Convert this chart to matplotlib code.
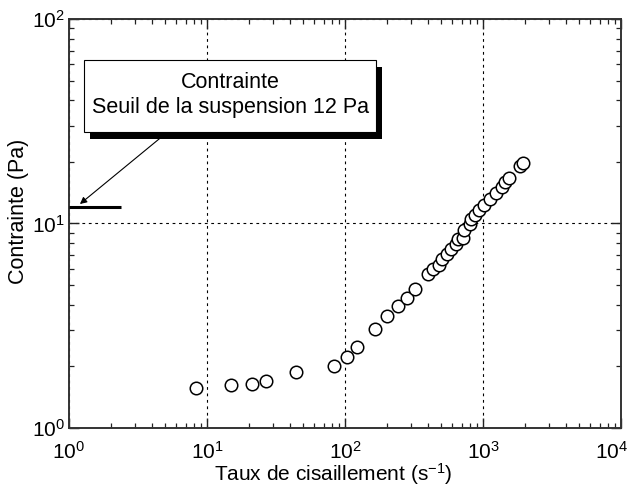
import matplotlib
matplotlib.use('Agg')
import matplotlib.pyplot as plt
import matplotlib.ticker as ticker
from matplotlib.patches import Rectangle

plt.rcParams['font.family'] = ['Liberation Sans', 'DejaVu Sans']
plt.rcParams['mathtext.fontset'] = 'custom'
plt.rcParams['mathtext.rm'] = 'Liberation Sans'
plt.rcParams['mathtext.it'] = 'Liberation Sans:italic'
plt.rcParams['mathtext.bf'] = 'Liberation Sans:bold'

# taux de cisaillement (s-1)
taux = [8.28, 14.9, 21.1, 26.9, 44.4, 82.8, 103, 123, 165, 203,
        243, 282, 319, 401, 435, 478, 503, 547, 589, 634,
        657, 716, 731, 805, 824, 879, 940, 1021, 1124, 1238,
        1366, 1439, 1543, 1854, 1960]
# contrainte (Pa)
contrainte = [1.57, 1.62, 1.65, 1.69, 1.87, 2.00, 2.22, 2.50, 3.04, 3.51,
              3.97, 4.30, 4.76, 5.63, 5.98, 6.25, 6.72, 7.07, 7.50, 7.97,
              8.38, 8.50, 9.29, 9.95, 10.5, 11.0, 11.6, 12.3, 13.1, 14.1,
              15.1, 15.9, 16.7, 19.0, 19.8]

# seuil de la suspension
seuil = 12
seuil_x = [1, 2.38]
fleche_debut = (4.56, 26.1)
fleche_fin = (1.20, 12.45)

fig = plt.figure(figsize=(6.29, 4.88), dpi=100)
ax = fig.add_axes([0.1097, 0.1230, 0.8776, 0.8381])

ax.plot(taux, contrainte, 'o', ms=9, mfc='white', mec='black', mew=1.1,
        linestyle='none', zorder=4)

ax.hlines(seuil, seuil_x[0], seuil_x[1], colors='black', lw=2.2, zorder=4)

ax.set_xscale('log')
ax.set_yscale('log')
ax.set_xlim(1, 1e4)
ax.set_ylim(1, 100)

# le label 10^4 est pose a part, un peu decale, pour rester dans l'image
base_fmt = ticker.LogFormatterSciNotation()
def fmt_x(x, pos=None):
    if abs(x - 1e4) < 1:
        return ''
    return base_fmt(x, pos)
ax.xaxis.set_major_formatter(ticker.FuncFormatter(fmt_x))

ax.grid(True, which='major', color='black', lw=0.8, linestyle=(0, (2.5, 3.3)))
ax.tick_params(which='both', direction='in', top=True, right=True,
               labelsize=15, color='#222222')
ax.tick_params(which='major', length=7, width=1)
ax.tick_params(which='minor', length=3.6, width=0.9)
ax.tick_params(axis='x', which='major', pad=9)
ax.tick_params(axis='y', which='major', pad=3)
for s in ax.spines.values():
    s.set_linewidth(1.4)
    s.set_color('#333333')

ax.annotate(r'$\mathdefault{10^{4}}$', xy=(1e4, 0), xycoords=('data', 'axes fraction'),
            xytext=(-9, -12.5), textcoords='offset pixels', ha='center', va='top',
            fontsize=15)

ax.set_xlabel('Taux de cisaillement (s$^{-1}$)', fontsize=15)
ax.set_ylabel('Contrainte (Pa)', fontsize=15.5)
ax.xaxis.set_label_coords(0.478, -0.081)
ax.yaxis.set_label_coords(-0.073, 0.53)

# boite d'annotation avec ombre
bx, by, bw, bh = 0.0277, 0.7237, 0.5285, 0.1761
ax.add_patch(Rectangle((bx + 0.0109, by - 0.0171), bw, bh, facecolor='black',
                       edgecolor='none', transform=ax.transAxes, clip_on=False, zorder=5))
ax.add_patch(Rectangle((bx, by), bw, bh, facecolor='white', edgecolor='black', lw=0.8,
                       transform=ax.transAxes, clip_on=False, zorder=6))
ax.text(bx + bw / 2, 0.8435, 'Contrainte', transform=ax.transAxes, ha='center',
        va='center', fontsize=15.5, zorder=7)
ax.text(bx + bw / 2, 0.7824, 'Seuil de la suspension 12 Pa', transform=ax.transAxes,
        ha='center', va='center', fontsize=15.5, zorder=7)

ax.annotate('', xy=fleche_fin, xytext=fleche_debut,
            arrowprops=dict(arrowstyle='-|>', color='black', lw=0.8,
                            mutation_scale=10, shrinkA=0, shrinkB=0), zorder=4)

fig.savefig('out.png', dpi=100)
